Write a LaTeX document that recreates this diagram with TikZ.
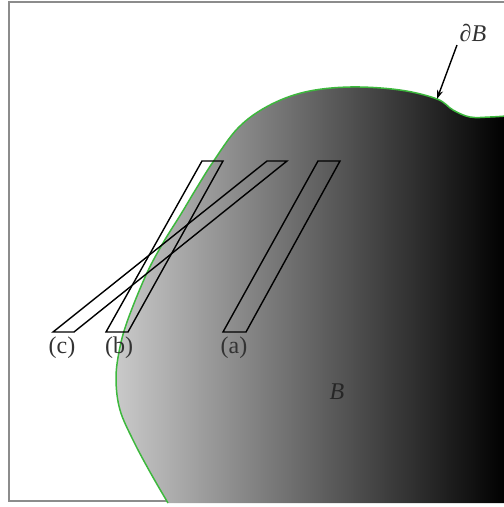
\documentclass[tikz,border=0pt]{standalone}
\usepackage{fontspec}
\setmainfont{Liberation Serif}
\usetikzlibrary{arrows.meta}
\definecolor{framegray}{HTML}{8C8C8C}
\definecolor{bdgreen}{HTML}{3DB83D}
\tikzset{
  para/.style={draw=black, line width=1.4pt, line join=miter},
  lbl/.style={font=\fontsize{24}{26}\selectfont, text=black!80, inner sep=0pt},
}
\begin{document}
\begin{tikzpicture}[x=1pt,y=-1pt]
\useasboundingbox (0,0) rectangle (504,507);
\draw[framegray, line width=2.5pt] (520,2) -- (9,2) -- (9,501) -- (520,501);
\def\bdpts{(168,503) (150,472) (133,440) (120,410) (116,380) (119,352) (127,322) (146,275) (163,243) (181,214) (196,189) (213,162) (238,128) (268,106) (305,92) (350,87) (400,90) (437,99) (453,110) (470,117) (490,117) (506,116)}
% body B
\shade[left color=black!21, right color=black]
  plot[smooth, tension=0.6] coordinates {\bdpts} -- (506,503) -- cycle;
\draw[bdgreen, line width=1.5pt]
  plot[smooth, tension=0.6] coordinates {\bdpts};
% parallelograms
\draw[para] (223,332) -- (246,332) -- (340,161) -- (318,161) -- cycle;
\draw[para] (106,332) -- (128,332) -- (223,161) -- (202,161) -- cycle;
\draw[para] (53,332) -- (74,332) -- (287,161) -- (267,161) -- cycle;
% labels
\node[lbl] (la) at (234,348) {(a)};
\node[lbl] (lb) at (119,348) {(b)};
\node[lbl] (lc) at (62,348) {(c)};
\node[lbl, text=black!85] (lB) at (337,392) {\textit{B}};
\node[lbl] (ldB) at (473,33) {\textit{∂B}};
\coordinate (tipB) at (437,99);
\coordinate (arrstart) at (457,45);
\draw[line width=1.4pt, -{Stealth[length=9pt,width=6pt]}] (arrstart) -- (tipB);
\end{tikzpicture}
\end{document}
